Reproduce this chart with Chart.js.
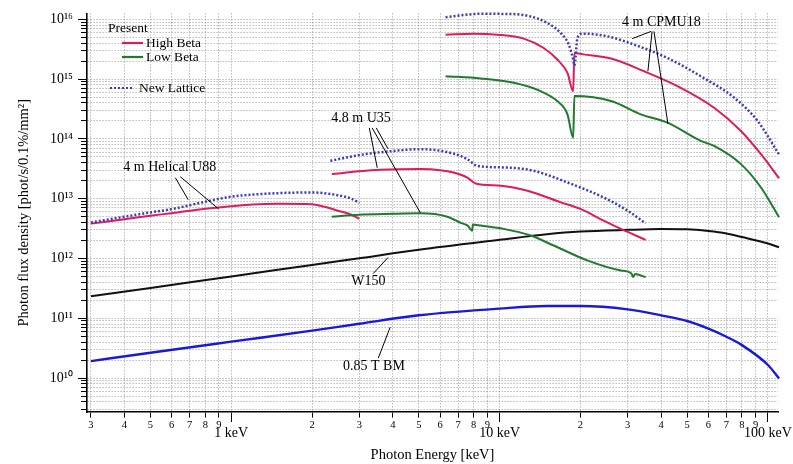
<!DOCTYPE html>
<html>
<head>
<meta charset="utf-8">
<script src="https://cdn.jsdelivr.net/npm/chart.js@4.4.0/dist/chart.umd.min.js"></script>
<style>
  html, body { margin: 0; padding: 0; background: #fff; }
  #wrap { width: 793px; height: 464px; }
</style>
</head>
<body>
<div id="wrap"><canvas id="chart" width="793" height="464"></canvas></div>
<script>
// Photon flux density vs energy

// 0.85 T bending magnet
const bmE = [0.3, 0.5, 1, 2, 3, 5, 10, 15, 20, 30, 40, 50, 60, 70, 80, 100, 110];
const bmF = [1.92e10, 2.65e10, 4.06e10, 6.2e10, 8.1e10, 1.12e11, 1.45e11, 1.6e11, 1.6e11, 1.41e11, 1.12e11, 9.0e10, 6.7e10, 4.9e10, 3.55e10, 1.65e10, 9.8e9];

// W150 wiggler
const w150E = [0.3, 0.5, 1, 2, 3, 5, 10, 15, 20, 30, 40, 50, 60, 70, 80, 100, 110];
const w150F = [2.33e11, 3.21e11, 5.01e11, 7.79e11, 1.01e12, 1.4e12, 2.05e12, 2.54e12, 2.82e12, 3.01e12, 3.1e12, 3.07e12, 2.87e12, 2.61e12, 2.28e12, 1.78e12, 1.54e12];

// 4 m Helical U88
const u88HighE = [0.3, 0.4, 0.5, 0.6, 0.8, 1, 1.2, 1.5, 2, 2.2, 2.5, 2.8, 3];
const u88HighF = [3.83e12, 4.54e12, 5.2e12, 5.73e12, 6.8e12, 7.5e12, 8.0e12, 8.2e12, 8.1e12, 7.4e12, 6.3e12, 5.4e12, 4.6e12];
const u88NewE = [0.3, 0.4, 0.5, 0.6, 0.8, 1, 1.5, 2, 2.5, 2.8, 3];
const u88NewF = [4.0e12, 5.0e12, 5.9e12, 6.7e12, 8.9e12, 1.08e13, 1.24e13, 1.27e13, 1.14e13, 1.0e13, 8.5e12];

// 4.8 m U35
const u35HighE = [2.37, 3.0, 3.6, 5.07, 6.0, 6.73, 7.58, 8.14, 10.1, 12.7, 16.9, 20, 24.4, 28.3, 35];
const u35HighF = [2.58e13, 2.87e13, 3.04e13, 3.13e13, 3.0e13, 2.74e13, 2.26e13, 1.8e13, 1.65e13, 1.36e13, 8.7e12, 6.74e12, 4.3e12, 3.13e12, 2.05e12];
const u35LowE = [2.37, 2.98, 4.0, 5.07, 6.38, 7.2, 7.6, 7.9, 7.95, 8.5, 10.35, 13.05, 15.9, 21.2, 28.3, 31, 31.4, 32, 35];
const u35LowF = [5.0e12, 5.41e12, 5.6e12, 5.69e12, 5.0e12, 3.9e12, 3.55e12, 2.9e12, 3.7e12, 3.55e12, 3.13e12, 2.42e12, 1.65e12, 9.3e11, 6.3e11, 5.6e11, 4.9e11, 5.5e11, 4.85e11];
const u35NewE = [2.34, 3.03, 3.81, 5.07, 6.73, 7.58, 8.26, 10.7, 13.4, 17.9, 24.4, 30, 35];
const u35NewF = [4.3e13, 5.41e13, 6.14e13, 6.74e13, 5.69e13, 4.59e13, 3.55e13, 3.32e13, 2.93e13, 1.87e13, 1.05e13, 6.3e12, 3.88e12];

// 4 m CPMU18
const cpmuHighE = [6.29, 8.02, 9.8, 12.3, 14.6, 16.4, 17.9, 18.8, 19.0, 20.5, 26.0, 34.5, 46.0, 63.0, 79.3, 94.2, 110];
const cpmuHighF = [5.56e15, 5.78e15, 5.56e15, 4.77e15, 3.32e15, 2.13e15, 1.27e15, 6.3e14, 2.74e15, 2.6e15, 2.21e15, 1.36e15, 7.64e14, 3.32e14, 1.36e14, 5.56e13, 2.2e13];
const cpmuLowE = [6.29, 8.49, 11.3, 14.2, 16.4, 17.9, 18.8, 19.0, 26.0, 33.6, 42.2, 56.2, 63.0, 79.3, 94.2, 110];
const cpmuLowF = [1.12e15, 1.03e15, 8.68e14, 6.3e14, 4.3e14, 2.58e14, 1.05e14, 5.21e14, 4.3e14, 2.58e14, 1.87e14, 9.26e13, 7.64e13, 3.79e13, 1.54e13, 4.9e12];
const cpmuNewE = [6.29, 8.49, 11.0, 13.05, 15.07, 16.9, 18.1, 18.8, 19.0, 19.5, 20.35, 25.2, 31.7, 42.2, 56.2, 74.9, 91.5, 110];
const cpmuNewF = [1.09e16, 1.24e16, 1.23e16, 1.12e16, 8.7e15, 5.9e15, 3.8e15, 2.13e15, 1.7e15, 4.88e15, 5.78e15, 5.21e15, 3.79e15, 2.26e15, 1.12e15, 4.88e14, 2.0e14, 5.5e13];

// axis ticks
const xTicks = [0.3, 0.4, 0.5, 0.6, 0.7, 0.8, 0.9, 1, 2, 3, 4, 5, 6, 7, 8, 9, 10, 20, 30, 40, 50, 60, 70, 80, 90, 100];
const xTickLabels = ['3', '4', '5', '6', '7', '8', '9', ['', '1 keV'], '2', '3', '4', '5', '6', '7', '8', '9',
  ['', '10 keV'], '2', '3', '4', '5', '6', '7', '8', '9', ['', '100 keV']];
const yDecades = [1e10, 1e11, 1e12, 1e13, 1e14, 1e15, 1e16];
const yDecadeLabels = ['10\u00b9\u2070', '10\u00b9\u00b9', '10\u00b9\u00b2', '10\u00b9\u00b3', '10\u00b9\u2074', '10\u00b9\u2075', '10\u00b9\u2076'];

// curve labels with leader lines, in data coordinates [E, F]
const notes = [
  { text: '4 m Helical U88', at: [0.396, 3.3e13], lines: [[[0.619, 2.24e13], [0.691, 9.6e12]], [[0.646, 2.33e13], [0.895, 6.8e12]]] },
  { text: '4.8 m U35', at: [2.36, 2.24e14], lines: [[[3.27, 1.53e14], [3.5, 3.29e13]], [[3.35, 1.53e14], [5.06, 5.85e12]], [[3.47, 1.53e14], [3.84, 6.8e13]]] },
  { text: '4 m CPMU18', at: [28.6, 8.9e15], lines: [[[36.7, 6.3e15], [31.2, 4.77e15]], [[37.0, 6.3e15], [35.7, 1.36e15]], [[37.6, 6.3e15], [42.4, 1.78e14]]] },
  { text: 'W150', at: [2.8, 4.14e11], lines: [[[3.38, 5.6e11], [3.84, 1.04e12]]] },
  { text: '0.85 T BM', at: [2.61, 1.58e10], lines: [[[3.53, 2.15e10], [3.91, 7.08e10]]] },
];

const SERIF = '"Liberation Serif", "Times New Roman", serif';
const RED = '#dc1c5c';
const GREEN = '#1f7a2e';
const NAVY = '#3a3ac0';
const BLUE = '#1a1ad6';
const GRID = 'rgba(110,110,110,0.7)';

function pts(xs, ys) {
  return xs.map((x, i) => ({ x: x, y: ys[i] }));
}

function isDecade(v) {
  const l = Math.log10(v);
  return Math.abs(l - Math.round(l)) < 1e-9;
}

function yTickList() {
  const out = [];
  for (let m = 3; m <= 9; m++) out.push(m * 1e9);
  yDecades.forEach((d, i) => {
    out.push(d);
    if (i < yDecades.length - 1) for (let m = 2; m <= 9; m++) out.push(m * d);
  });
  return out;
}

function line(label, xs, ys, color, width, dotted) {
  return {
    label: label,
    data: pts(xs, ys),
    borderColor: color,
    borderWidth: width,
    borderDash: dotted ? [2, 2] : [],
    borderCapStyle: 'butt',
    pointRadius: 0,
    fill: false,
    clip: 4,
  };
}

// legend drawn inside the plot area, upper left
const legendBox = {
  id: 'legendBox',
  afterDatasetsDraw(chart) {
    const ctx = chart.ctx;
    ctx.save();
    ctx.font = '13.5px ' + SERIF;
    ctx.fillStyle = '#000';
    ctx.textBaseline = 'middle';
    ctx.fillText('Present', 108, 28);
    const rows = [
      { y: 43, x1: 122, x2: 143, tx: 146, color: RED, dash: [], text: 'High Beta' },
      { y: 57, x1: 122, x2: 143, tx: 146, color: GREEN, dash: [], text: 'Low Beta' },
      { y: 88, x1: 110, x2: 134, tx: 139, color: NAVY, dash: [2, 2], text: 'New Lattice' },
    ];
    rows.forEach(r => {
      ctx.strokeStyle = r.color;
      ctx.lineWidth = 2.2;
      ctx.setLineDash(r.dash);
      ctx.beginPath();
      ctx.moveTo(r.x1, r.y);
      ctx.lineTo(r.x2, r.y);
      ctx.stroke();
      ctx.fillText(r.text, r.tx, r.y);
    });
    ctx.restore();
  }
};

const curveNotes = {
  id: 'curveNotes',
  afterDatasetsDraw(chart) {
    const ctx = chart.ctx;
    const sx = chart.scales.x, sy = chart.scales.y;
    ctx.save();
    ctx.font = '14px ' + SERIF;
    ctx.fillStyle = '#000';
    ctx.strokeStyle = '#000';
    ctx.lineWidth = 1;
    ctx.textBaseline = 'middle';
    notes.forEach(n => {
      ctx.fillText(n.text, sx.getPixelForValue(n.at[0]), sy.getPixelForValue(n.at[1]));
      n.lines.forEach(l => {
        ctx.beginPath();
        ctx.moveTo(sx.getPixelForValue(l[0][0]), sy.getPixelForValue(l[0][1]));
        ctx.lineTo(sx.getPixelForValue(l[1][0]), sy.getPixelForValue(l[1][1]));
        ctx.stroke();
      });
    });
    ctx.restore();
  }
};

new Chart(document.getElementById('chart'), {
  type: 'line',
  data: {
    datasets: [
      line('CPMU18 New Lattice', cpmuNewE, cpmuNewF, NAVY, 2.5, true),
      line('CPMU18 High Beta', cpmuHighE, cpmuHighF, RED, 2, false),
      line('CPMU18 Low Beta', cpmuLowE, cpmuLowF, GREEN, 2, false),
      line('U35 New Lattice', u35NewE, u35NewF, NAVY, 2.5, true),
      line('U35 High Beta', u35HighE, u35HighF, RED, 2, false),
      line('U35 Low Beta', u35LowE, u35LowF, GREEN, 2, false),
      line('U88 New Lattice', u88NewE, u88NewF, NAVY, 2.5, true),
      line('U88 High Beta', u88HighE, u88HighF, RED, 2, false),
      line('W150', w150E, w150F, '#111', 2, false),
      line('0.85 T BM', bmE, bmF, BLUE, 2.4, false),
    ]
  },
  options: {
    responsive: false,
    animation: false,
    layout: { padding: { left: 0, right: 15, top: 13, bottom: 0 } },
    elements: { line: { cubicInterpolationMode: 'monotone' } },
    plugins: { legend: { display: false }, tooltip: { enabled: false } },
    scales: {
      x: {
        type: 'logarithmic',
        min: 0.29,
        max: 109,
        afterBuildTicks: s => { s.ticks = xTicks.map(v => ({ value: v })); },
        afterFit: s => { s.height = 52; },
        ticks: {
          autoSkip: false,
          maxRotation: 0,
          padding: -3.5,
          color: '#000',
          font: ctx => (ctx.tick && isDecade(ctx.tick.value))
            ? { family: SERIF, size: 14, lineHeight: '10px' }
            : { family: SERIF, size: 10.5 },
          callback: (v, i) => xTickLabels[i],
        },
        grid: {
          color: GRID,
          lineWidth: 1,
          tickLength: 10,
          tickColor: '#000',
          tickWidth: 1,
          tickBorderDash: ctx => (ctx.tick && isDecade(ctx.tick.value)) ? [] : [5, 100],
        },
        border: { color: '#000', width: 1.6, dash: [1, 2] },
        title: {
          display: true,
          text: 'Photon Energy [keV]',
          color: '#000',
          font: { family: SERIF, size: 14.5 },
          padding: { top: 0, bottom: 0 },
        },
      },
      y: {
        type: 'logarithmic',
        min: 2.7e9,
        max: 1.26e16,
        afterBuildTicks: s => { s.ticks = yTickList().map(v => ({ value: v })); },
        afterFit: s => { s.width = 87; },
        ticks: {
          autoSkip: false,
          padding: 5,
          color: '#000',
          font: { family: SERIF, size: 14 },
          callback: v => {
            const i = yDecades.indexOf(v);
            return i >= 0 ? yDecadeLabels[i] : '';
          },
        },
        grid: {
          color: GRID,
          lineWidth: 1,
          tickLength: 9,
          tickColor: '#000',
          tickWidth: 1,
          tickBorderDash: ctx => (ctx.tick && isDecade(ctx.tick.value)) ? [] : [0, 3, 6, 100],
        },
        border: { color: '#000', width: 1.6, dash: [1, 2] },
        title: {
          display: true,
          text: 'Photon flux density [phot/s/0.1%/mm\u00b2]',
          color: '#000',
          font: { family: SERIF, size: 14.5 },
          padding: { top: 15, bottom: 0 },
        },
      },
    },
  },
  plugins: [legendBox, curveNotes],
});
</script>
</body>
</html>
